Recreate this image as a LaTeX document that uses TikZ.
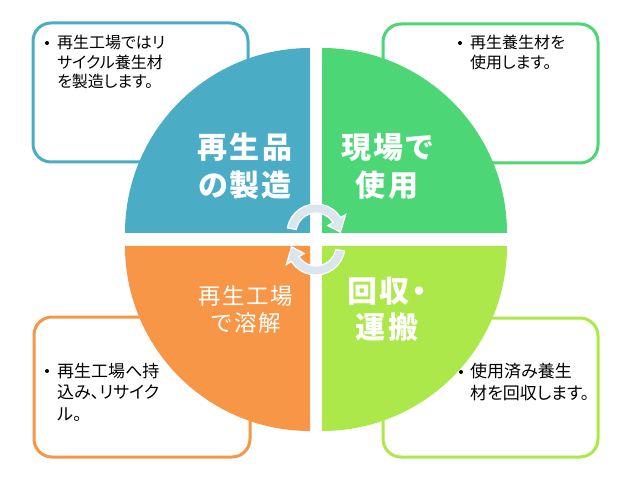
\documentclass[tikz,border=0pt]{standalone}
\usepackage{fontspec}
\setmainfont{Noto Sans CJK JP}
\definecolor{cblue}{RGB}{75,172,198}
\definecolor{cgreen}{RGB}{76,214,118}
\definecolor{corange}{RGB}{247,150,70}
\definecolor{clime}{RGB}{173,232,74}
\definecolor{carrow}{RGB}{218,229,238}
\begin{document}
\begin{tikzpicture}[x=1pt,y=1pt,
  box/.style={draw, line width=3pt, rounded corners=18pt, fill=white},
  bul/.style={circle, fill=black, inner sep=0pt, minimum size=4pt},
  btext/.style={anchor=north west, inner sep=0pt, align=left, font={\fontsize{16}{19.5}\selectfont\addfontfeatures{RawFeature=+palt}}},
  btextb/.style={anchor=north west, inner sep=0pt, align=left, font={\fontsize{17}{21.5}\selectfont\addfontfeatures{RawFeature=+palt}}},
  lbl/.style={text=white, align=center, inner sep=0pt, font={\fontsize{30}{38}\selectfont\bfseries\addfontfeatures{LetterSpace=7,RawFeature=+palt}}},
  lbllow/.style={text=white, align=center, inner sep=0pt, font={\fontsize{30}{36}\selectfont\bfseries\addfontfeatures{LetterSpace=7,RawFeature=+palt}}},
  lblsmall/.style={text=white, align=center, inner sep=0pt, font={\fontsize{22.5}{27}\selectfont\addfontfeatures{LetterSpace=6}}},
  arrowst/.style={fill=carrow, draw=white, line width=1.2pt, line join=miter}]
\useasboundingbox (0,0) rectangle (640,480);
% boxes
\draw[box, draw=cblue]   (33,318) rectangle (248,457);
\draw[box, draw=cgreen]  (383,317) rectangle (598,456);
\draw[box, draw=corange] (34,23) rectangle (250,163);
\draw[box, draw=clime]   (383,23) rectangle (598,162);
% box texts
\node[bul] (b1) at (47,437) {};
\node[btext] (t1) at (57,445) {再生工場ではリ\\サイクル養生材\\を製造します。};
\node[bul] (b2) at (460,437) {};
\node[btext] (t2) at (470,445) {再生養生材を\\使用します。};
\node[bul] (b3) at (47,109) {};
\node[btextb] (t3) at (57,117) {再生工場へ持\\込み、リサイク\\ル。};
\node[bul] (b4) at (461,108) {};
\node[btextb] (t4) at (470,117) {使用済み養生\\材を回収します。};
% quadrants
\fill[cblue]   (310,247) -- (125,247) arc[start angle=180,end angle=90,radius=185] -- cycle;
\fill[cgreen]  (322,247) -- (507,247) arc[start angle=0,end angle=90,radius=185] -- cycle;
\fill[corange] (310,234) -- (125,234) arc[start angle=180,end angle=270,radius=185] -- cycle;
\fill[clime]   (322,234) -- (507,234) arc[start angle=0,end angle=-90,radius=185] -- cycle;
% labels
\node[lbl] (l1) at (245,314) {再生品\\の製造};
\node[lbl] (l2) at (387,314) {現場で\\使用};
\node[lblsmall] (l3) at (246,171) {再生工場\\で溶解};
\node[lbllow] (l4) at (387,171) {回収・\\運搬};
% cycle arrows
\coordinate (Ct) at (316,247);
\coordinate (Cb) at (316,234);
\filldraw[arrowst] ([shift={(170:29)}]Ct) arc[start angle=170,end angle=32,radius=29]
  -- ([shift={(32:35)}]Ct) -- ([shift={(2:24.5)}]Ct) -- ([shift={(32:14)}]Ct)
  -- ([shift={(32:20)}]Ct) arc[start angle=32,end angle=170,radius=20] -- cycle;
\filldraw[arrowst] ([shift={(-10:29)}]Cb) arc[start angle=-10,end angle=-148,radius=29]
  -- ([shift={(-148:35)}]Cb) -- ([shift={(-178:24.5)}]Cb) -- ([shift={(-148:14)}]Cb)
  -- ([shift={(-148:20)}]Cb) arc[start angle=-148,end angle=-10,radius=20] -- cycle;
\end{tikzpicture}
\end{document}
